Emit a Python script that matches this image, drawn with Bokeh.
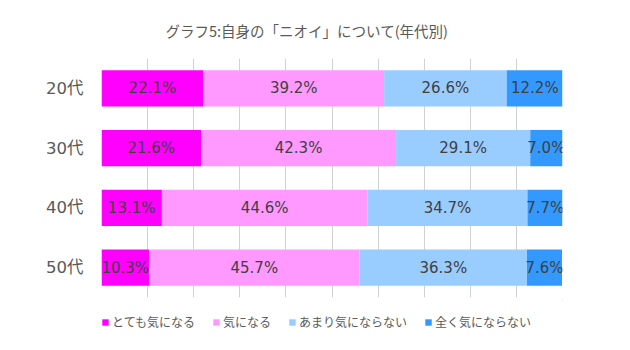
from bokeh.plotting import figure
from bokeh.layouts import column
from bokeh.models import ColumnDataSource, Legend, LegendItem, Title, FixedTicker, LabelSet
from bokeh.core.properties import value
from bokeh.embed import file_html
from bokeh.resources import INLINE

categories = ["20代", "30代", "40代", "50代"]
series_names = ["とても気になる", "気になる", "あまり気にならない", "全く気にならない"]
very = [22.1, 21.6, 13.1, 10.3]
some = [39.2, 42.3, 44.6, 45.7]
little = [26.6, 29.1, 34.7, 36.3]
notatall = [12.2, 7.0, 7.7, 7.6]
colors = ["#FF00FF", "#FF99FF", "#99CCFF", "#3399FF"]

FONT = "Noto Sans CJK JP"
NUMFONT = "DejaVu Sans, Noto Sans CJK JP"
GRAY = "#595959"

keys = ["very", "some", "little", "notatall"]
data = dict(cat=categories, very=very, some=some, little=little, notatall=notatall)
source = ColumnDataSource(data)

p = figure(width=630, height=300, output_backend="svg", toolbar_location=None,
           y_range=list(reversed(categories)),
           x_range=(0, 100),
           min_border_left=101, min_border_right=68, min_border_top=57, min_border_bottom=3)
p.outline_line_color = None

renderers = p.hbar_stack(keys, y="cat", height=0.61, color=colors, source=source,
                         line_color=None)

vals = [very, some, little, notatall]
xs, ys, txt = [], [], []
for i, c in enumerate(categories):
    left = 0.0
    for v in vals:
        xs.append(left + v[i] / 2)
        ys.append(c)
        txt.append(f"{v[i]:.1f}%")
        left += v[i]
lab_src = ColumnDataSource(dict(x=xs, y=ys, t=txt))
p.add_layout(LabelSet(x="x", y="y", text="t", source=lab_src, text_align="center",
                      text_baseline="middle", text_font=value(NUMFONT),
                      text_font_size="15px", text_color="#404040"))

p.xaxis.visible = False
p.xgrid.ticker = FixedTicker(ticks=list(range(0, 101, 10)))
p.xgrid.grid_line_color = "#D0D4D0"
p.ygrid.grid_line_color = None

yax = p.yaxis[0]
yax.axis_line_color = None
yax.major_tick_line_color = None
yax.minor_tick_line_color = None
yax.major_label_text_font = NUMFONT
yax.major_label_text_font_size = "16.5px"
yax.major_label_text_color = GRAY
yax.major_label_standoff = 12

title = Title(text="グラフ5:自身の「ニオイ」について(年代別)", align="left", offset=64,
              text_font=FONT, text_font_size="14.5px", text_color=GRAY,
              text_font_style="normal", standoff=35)
p.add_layout(title, "above")

# legend strip below the chart
lp = figure(width=630, height=50, output_backend="svg", toolbar_location=None,
            x_range=(0, 1), y_range=(0, 1),
            min_border_left=0, min_border_right=0, min_border_top=0, min_border_bottom=0)
lp.outline_line_color = None
lp.xaxis.visible = False
lp.yaxis.visible = False
lp.grid.grid_line_color = None
leg_renderers = [lp.hbar(y=[5], left=[5], right=[6], height=0.5, color=c, line_color=None)
                 for c in colors]
legend = Legend(items=[LegendItem(label=n, renderers=[r]) for n, r in zip(series_names, leg_renderers)],
                orientation="horizontal", location=(0, 20),
                glyph_width=8, glyph_height=8, label_standoff=3, spacing=17,
                label_text_font=FONT, label_text_font_size="12px", label_text_color=GRAY,
                border_line_color=None, background_fill_alpha=0, padding=0, margin=0)
lp.add_layout(legend)

open("out.html", "w").write(file_html(column(p, lp), INLINE))
